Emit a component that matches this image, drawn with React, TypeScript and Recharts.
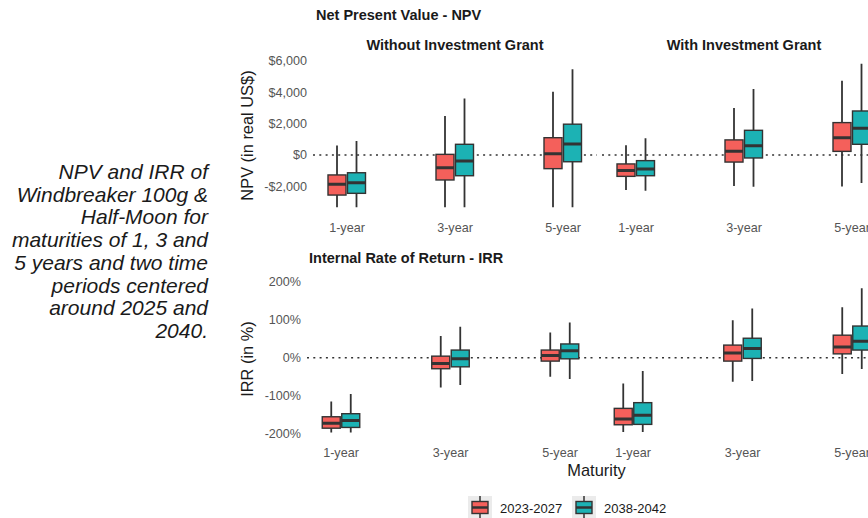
import React from 'react';
import { BarChart, Bar, XAxis, YAxis, ReferenceLine } from 'recharts';

const FONT = '"Liberation Sans", Arial, Helvetica, sans-serif';
const RED = '#F4605B';
const TEAL = '#1CB2B4';
const INK = '#333333';
const TICK = '#555555';

const maturities = ['1-year', '3-year', '5-year'];
const periods = ['2023-2027', '2038-2042'];
const facets = ['Without Investment Grant', 'With Investment Grant'];

// each entry: [min, q1, median, q3, max] for 1-year, 3-year, 5-year
const npvWithout2025 = [[-3330, -2550, -1870, -1270, 600], [-3330, -1590, -810, 40, 2480], [-3330, -870, 80, 1100, 4030]];
const npvWithout2040 = [[-3330, -2440, -1760, -1130, 890], [-3330, -1320, -380, 680, 3590], [-3330, -430, 700, 1960, 5460]];
const npvWith2025 = [[-2230, -1360, -980, -570, 620], [-1980, -450, 240, 960, 2990], [-2000, 230, 1100, 2060, 4730]];
const npvWith2040 = [[-2270, -1320, -890, -360, 1060], [-2020, -190, 590, 1570, 4200], [-1780, 680, 1700, 2800, 5810]];

const irrWithout2025 = [[-196, -185, -172, -155, -115], [-78, -29, -15, 4, 57], [-50, -9, 6, 20, 66]];
const irrWithout2040 = [[-196, -183, -165, -147, -95], [-72, -24, -3, 20, 81], [-56, -3, 18, 36, 92]];
const irrWith2025 = [[-195, -176, -161, -133, -68], [-63, -9, 12, 33, 98], [-43, 10, 28, 59, 132]];
const irrWith2040 = [[-195, -175, -151, -118, -35], [-61, -2, 24, 51, 129], [-30, 20, 43, 83, 182]];

const npvTicks = [-2000, 0, 2000, 4000, 6000];
const irrTicks = [-200, -100, 0, 100, 200];

const captionLines = [
  'NPV and IRR of',
  'Windbreaker 100g &',
  'Half-Moon for',
  'maturities of 1, 3 and',
  '5 years and two time',
  'periods centered',
  'around 2025 and',
  '2040.',
];

type Row = { maturity: string; early: number[]; late: number[] };
const buildRows = (a: number[][], b: number[][]): Row[] =>
  maturities.map((m, i) => ({ maturity: m, early: a[i], late: b[i] }));

const expandDomain = (sets: number[][][]): [number, number] => {
  const all = sets.flat(2);
  const lo = Math.min(...all);
  const hi = Math.max(...all);
  const pad = (hi - lo) * 0.05;
  return [lo - pad, hi + pad];
};

const npvDomain = expandDomain([npvWithout2025, npvWithout2040, npvWith2025, npvWith2040]);
const irrDomain = expandDomain([irrWithout2025, irrWithout2040, irrWith2025, irrWith2040]);

const fmtDollar = (v: number) => (v < 0 ? '-' : '') + '$' + Math.abs(v).toLocaleString('en-US');
const fmtPct = (v: number) => `${v}%`;

const BoxShape = (props: any) => {
  const { x, y, width, height, stats, fill } = props;
  if (!stats || x == null) return null;
  const [mn, q1, med, q3, mx] = stats;
  const top = Math.min(y, y + height);
  const bottom = Math.max(y, y + height);
  const px = (v: number) => bottom - ((v - mn) / (mx - mn)) * (bottom - top);
  const cx = x + width / 2;
  return (
    <g>
      <line x1={cx} x2={cx} y1={top} y2={bottom} stroke={INK} strokeWidth={1.8} />
      <rect x={x} y={px(q3)} width={width} height={px(q1) - px(q3)} fill={fill} stroke={INK} strokeWidth={1.4} />
      <line x1={x} x2={x + width} y1={px(med)} y2={px(med)} stroke={INK} strokeWidth={3} />
    </g>
  );
};

type PanelProps = {
  rows: Row[];
  domain: [number, number];
  ticks: number[];
  fmt: (v: number) => string;
  left: number;
  right: number;
  top: number;
  bottom: number;
  band: number;
  showY: boolean;
  tickMargin: number;
  layer: 'ref' | 'boxes';
};

const W = 900;

function Panel({ rows, domain, ticks, fmt, left, right, top, bottom, band, showY, tickMargin, layer }: PanelProps) {
  const H = bottom + 40;
  const padX = (band * 3 - (right - left)) / 2;
  const tickStyle = { fill: TICK, fontSize: 12.6, fontFamily: FONT };
  const isRef = layer === 'ref';
  return (
    <div style={{ position: 'absolute', left: 0, top: 0, pointerEvents: 'none' }}>
      <BarChart
        width={W}
        height={H}
        data={rows}
        margin={{ top, left: showY ? 0 : left, right: W - right, bottom: 0 }}
        barSize={18}
        barGap={1.5}
      >
        <XAxis
          dataKey="maturity"
          type="category"
          axisLine={false}
          tickLine={false}
          tickSize={0}
          tickMargin={tickMargin}
          height={H - bottom}
          padding={{ left: -padX, right: -padX }}
          interval={0}
          tick={isRef ? false : tickStyle}
        />
        <YAxis
          type="number"
          domain={domain}
          ticks={ticks}
          allowDataOverflow
          hide={!showY}
          width={left}
          axisLine={false}
          tickLine={false}
          tickSize={0}
          tickMargin={6}
          tickFormatter={fmt}
          tick={isRef ? false : tickStyle}
        />
        {isRef && <ReferenceLine y={0} stroke={INK} strokeWidth={1.6} strokeDasharray="2 4.3" />}
        {!isRef && (
          <Bar
            dataKey={(d: Row) => [d.early[0], d.early[4]]}
            name={periods[0]}
            isAnimationActive={false}
            shape={(p: any) => <BoxShape {...p} stats={p.payload.early} fill={RED} />}
          />
        )}
        {!isRef && (
          <Bar
            dataKey={(d: Row) => [d.late[0], d.late[4]]}
            name={periods[1]}
            isAnimationActive={false}
            shape={(p: any) => <BoxShape {...p} stats={p.payload.late} fill={TEAL} />}
          />
        )}
      </BarChart>
    </div>
  );
}

const LegendKey = ({ x, fill }: { x: number; fill: string }) => (
  <g>
    <rect x={x} y={496} width={24} height={22} fill="#ebebeb" />
    <line x1={x + 12} x2={x + 12} y1={496} y2={518} stroke={INK} strokeWidth={1.5} />
    <rect x={x + 4} y={501.5} width={16} height={12} fill={fill} stroke={INK} strokeWidth={1.4} />
    <line x1={x + 4} x2={x + 20} y1={507.5} y2={507.5} stroke={INK} strokeWidth={2.5} />
  </g>
);

export default function App() {
  const npvLeft = buildRows(npvWithout2025, npvWithout2040);
  const npvRight = buildRows(npvWith2025, npvWith2040);
  const irrLeft = buildRows(irrWithout2025, irrWithout2040);
  const irrRight = buildRows(irrWith2025, irrWith2040);

  const panels = [
    { rows: npvLeft, domain: npvDomain, ticks: npvTicks, fmt: fmtDollar, left: 313, right: 597, top: 56.5, bottom: 214.5, band: 108, showY: true, tickMargin: 9 },
    { rows: npvRight, domain: npvDomain, ticks: npvTicks, fmt: fmtDollar, left: 602, right: 886, top: 56.5, bottom: 214.5, band: 108, showY: false, tickMargin: 9 },
    { rows: irrLeft, domain: irrDomain, ticks: irrTicks, fmt: fmtPct, left: 307, right: 594, top: 281.1, bottom: 439.6, band: 109.5, showY: true, tickMargin: 8 },
    { rows: irrRight, domain: irrDomain, ticks: irrTicks, fmt: fmtPct, left: 599, right: 886, top: 281.1, bottom: 439.6, band: 109.5, showY: false, tickMargin: 8 },
  ];

  return (
    <div
      style={{
        position: 'absolute',
        left: 0,
        top: 0,
        width: 868,
        height: 518,
        overflow: 'hidden',
        background: '#ffffff',
        fontFamily: FONT,
      }}
    >
      <div
        style={{
          position: 'absolute',
          left: 0,
          top: 161,
          width: 208,
          textAlign: 'right',
          fontStyle: 'italic',
          fontSize: 21,
          lineHeight: '22.7px',
          color: '#1a1a1a',
          whiteSpace: 'nowrap',
          direction: 'rtl',
        }}
      >
        {captionLines.map((l, i) => (
          <div key={i} style={{ direction: 'ltr', unicodeBidi: 'plaintext' }}>{l}</div>
        ))}
      </div>

      {panels.map((p, i) => (
        <Panel key={`ref${i}`} {...p} layer="ref" />
      ))}
      {panels.map((p, i) => (
        <Panel key={`box${i}`} {...p} layer="boxes" />
      ))}

      <svg width={868} height={518} style={{ position: 'absolute', left: 0, top: 0, pointerEvents: 'none' }}>
        <g fontFamily={FONT} fill="#1a1a1a">
          <text x={316} y={14.5} fontSize={14.5} fontWeight="bold" dominantBaseline="central">Net Present Value - NPV</text>
          <text x={455} y={44.5} fontSize={14.5} fontWeight="bold" textAnchor="middle" dominantBaseline="central">{facets[0]}</text>
          <text x={744} y={44.5} fontSize={14.5} fontWeight="bold" textAnchor="middle" dominantBaseline="central">{facets[1]}</text>
          <text x={309} y={257.7} fontSize={14.5} fontWeight="bold" dominantBaseline="central">Internal Rate of Return - IRR</text>
          <text x={247} y={135.5} fontSize={16.4} textAnchor="middle" dominantBaseline="central" transform="rotate(-90 247 135.5)">NPV (in real US$)</text>
          <text x={247} y={359} fontSize={16.4} textAnchor="middle" dominantBaseline="central" transform="rotate(-90 247 359)">IRR (in %)</text>
          <text x={596.5} y={470} fontSize={16.4} textAnchor="middle" dominantBaseline="central">Maturity</text>
        </g>
        <LegendKey x={468} fill={RED} />
        <text x={500} y={508} fontFamily={FONT} fontSize={13} fill="#1a1a1a" dominantBaseline="central">{periods[0]}</text>
        <LegendKey x={572} fill={TEAL} />
        <text x={604} y={508} fontFamily={FONT} fontSize={13} fill="#1a1a1a" dominantBaseline="central">{periods[1]}</text>
      </svg>
    </div>
  );
}
